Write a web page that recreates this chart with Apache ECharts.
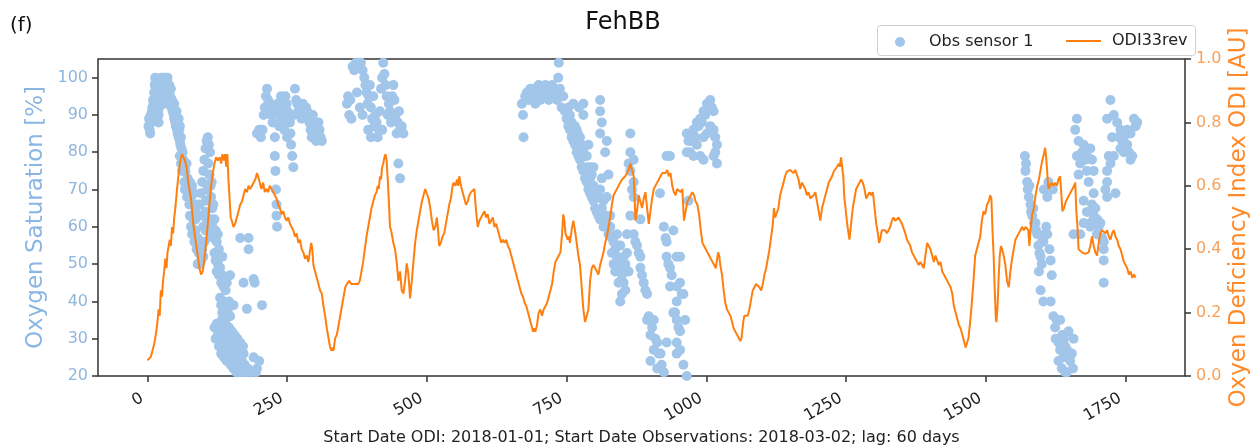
<!DOCTYPE html>
<html><head><meta charset="utf-8">
<script src="https://cdn.jsdelivr.net/npm/echarts@6/dist/echarts.min.js"></script>
<style>html,body{margin:0;padding:0;background:#fff;overflow:hidden}#c{width:1253px;height:447px}</style>
</head><body><div id="c"></div>
<script>
const xTicks=[0,250,500,750,1000,1250,1500,1750];
const yLeftTicks=[20,30,40,50,60,70,80,90,100];
const yRightTicks=[0,0.2,0.4,0.6,0.8,1.0];

// ODI33rev line [day, value]
const odi=[[0,0.05],[3,0.045],[6,0.06],[9,0.08],[12,0.10],[15,0.13],[18,0.17],[20,0.21],[22,0.19],[24,0.27],[26,0.25],[28,0.30],[30,0.33],[32,0.37],[34,0.34],[36,0.39],[38,0.41],[40,0.43],[42,0.41],[44,0.47],[46,0.45],[48,0.50],[50,0.53],[53,0.59],[56,0.64],[59,0.68],[62,0.70],[64,0.70],[67,0.68],[70,0.66],[74,0.60],[78,0.56],[82,0.48],[86,0.43],[90,0.38],[93,0.34],[96,0.32],[99,0.33],[102,0.37],[105,0.42],[108,0.48],[111,0.54],[114,0.60],[117,0.64],[120,0.67],[123,0.69],[126,0.68],[129,0.69],[132,0.67],[134,0.70],[137,0.68],[139,0.70],[141,0.66],[143,0.70],[145,0.62],[147,0.56],[149,0.50],[151,0.49],[154,0.47],[157,0.48],[160,0.50],
[163,0.52],[166,0.54],[169,0.55],[172,0.57],[175,0.59],[178,0.58],[181,0.60],[184,0.59],[187,0.60],[190,0.60],[193,0.62],[196,0.64],[198,0.63],[201,0.61],[204,0.59],[207,0.61],[210,0.58],[213,0.59],[216,0.58],[219,0.60],[222,0.59],[225,0.58],[228,0.58],[231,0.56],[234,0.54],[237,0.53],[240,0.51],[243,0.52],[246,0.50],[249,0.49],[252,0.50],[255,0.48],[258,0.48],[261,0.46],[264,0.44],[267,0.45],[270,0.42],[273,0.43],[276,0.40],[279,0.39],[282,0.37],[285,0.38],[288,0.36],[291,0.36],[293,0.42],[295,0.40],[297,0.35],[300,0.33],[303,0.31],[306,0.29],[309,0.27],[312,0.26],[315,0.22],[318,0.19],[321,0.15],[324,0.12],[327,0.09],[329,0.08],[331,0.09],[333,0.08],
[336,0.12],[339,0.13],[342,0.16],[345,0.19],[348,0.22],[351,0.25],[354,0.28],[357,0.29],[361,0.30],[365,0.29],[369,0.29],[373,0.29],[377,0.29],[380,0.30],[383,0.33],[386,0.36],[389,0.40],[392,0.44],[395,0.47],[398,0.50],[401,0.53],[404,0.55],[407,0.57],[410,0.58],[412,0.60],[414,0.59],[416,0.63],[418,0.62],[420,0.66],[422,0.67],[424,0.69],[426,0.70],[428,0.68],[430,0.62],[432,0.55],[434,0.47],[436,0.46],[438,0.44],[440,0.42],[443,0.40],[446,0.36],[449,0.30],[452,0.33],[455,0.27],[458,0.26],[461,0.30],[464,0.355],[467,0.32],[470,0.245],[473,0.30],[476,0.36],
[479,0.42],[482,0.46],[485,0.49],[488,0.52],[491,0.55],[494,0.57],[497,0.59],[500,0.59],[503,0.56],[506,0.53],[509,0.49],[512,0.46],[515,0.47],[518,0.50],[520,0.46],[522,0.41],[525,0.42],[528,0.44],[531,0.45],[534,0.48],[537,0.51],[540,0.54],[543,0.56],[546,0.60],[548,0.61],[551,0.60],[554,0.62],[556,0.60],[558,0.63],[561,0.60],[564,0.58],[567,0.56],[570,0.54],[573,0.55],[576,0.57],[579,0.58],[582,0.58],[585,0.59],[588,0.52],[591,0.47],[594,0.49],[597,0.50],[600,0.51],[603,0.52],[606,0.50],[609,0.51],[612,0.48],[615,0.49],[618,0.50],[621,0.47],[624,0.48],[627,0.46],[630,0.44],[633,0.42],[636,0.43],[639,0.42],[642,0.43],[645,0.41],[648,0.40],[651,0.38],[654,0.36],[657,0.34],[660,0.32],[663,0.30],[666,0.28],[669,0.26],[672,0.25],[675,0.23],[678,0.22],[681,0.20],[684,0.18],[687,0.16],[690,0.14],[692,0.15],[694,0.14],[697,0.16],[700,0.20],[703,0.21],
[706,0.19],[709,0.21],[712,0.22],[715,0.23],[718,0.25],[721,0.27],[724,0.29],[727,0.33],[730,0.36],[733,0.37],[736,0.38],[739,0.39],[742,0.45],[744,0.51],[746,0.49],[748,0.45],[750,0.45],[752,0.43],[754,0.44],[756,0.42],[759,0.46],[762,0.49],[765,0.46],[768,0.42],[771,0.38],[774,0.35],[777,0.28],[780,0.21],[783,0.17],[786,0.17],[789,0.21],[792,0.30],[795,0.34],[798,0.35],[801,0.34],[804,0.33],[807,0.32],[810,0.35],[813,0.37],[816,0.39],[819,0.42],[822,0.44],[825,0.47],[828,0.50],[831,0.54],[834,0.57],[837,0.58],[840,0.59],[843,0.60],[846,0.61],[849,0.62],[852,0.62],[855,0.63],[858,0.64],[861,0.65],[864,0.67],[867,0.65],[870,0.63],[872,0.55],[873,0.49],[876,0.52],[879,0.57],[882,0.55],[885,0.53],[888,0.56],[891,0.58],[894,0.53],[897,0.48],[900,0.52],[903,0.56],[906,0.59],[909,0.60],[912,0.61],[915,0.62],[918,0.63],[921,0.64],[924,0.645],[927,0.64],[930,0.65],[933,0.63],[936,0.64],[939,0.60],[942,0.58],[945,0.57],[948,0.59],[951,0.59],[954,0.58],[957,0.59],[960,0.49],[963,0.52],[966,0.55],[969,0.56],[972,0.57],[975,0.58],[978,0.57],[981,0.55],[984,0.54],
[987,0.51],[990,0.46],[993,0.42],[996,0.41],[999,0.40],[1002,0.39],[1005,0.38],[1008,0.37],[1011,0.36],[1014,0.35],[1017,0.34],[1019,0.34],[1021,0.39],[1023,0.38],[1025,0.35],[1028,0.32],[1031,0.27],[1034,0.23],[1037,0.21],[1040,0.20],[1043,0.19],[1046,0.17],[1049,0.15],[1052,0.14],[1055,0.13],[1058,0.12],[1061,0.11],[1063,0.12],[1066,0.17],[1068,0.19],[1071,0.19],[1074,0.19],[1077,0.21],[1080,0.24],[1083,0.27],[1086,0.28],[1089,0.29],[1092,0.29],[1095,0.28],[1098,0.27],[1101,0.29],[1104,0.32],[1107,0.34],[1110,0.37],[1113,0.40],[1116,0.44],[1119,0.48],[1121,0.53],[1123,0.50],[1126,0.50],[1129,0.53],[1132,0.57],[1135,0.59],[1138,0.61],[1141,0.63],[1144,0.645],[1147,0.64],[1150,0.65],[1153,0.65],[1156,0.64],[1159,0.65],[1162,0.655],[1165,0.62],[1168,0.59],[1171,0.61],[1174,0.60],[1177,0.59],[1180,0.57],[1183,0.58],[1186,0.56],[1189,0.56],[1192,0.57],[1195,0.58],[1198,0.575],[1201,0.52],[1204,0.49],[1207,0.53],[1210,0.55],[1213,0.57],[1216,0.59],[1219,0.61],[1222,0.62],[1225,0.63],[1228,0.645],[1231,0.65],[1234,0.66],[1237,0.67],[1239,0.66],[1241,0.69],[1243,0.66],[1245,0.63],[1247,0.56],[1249,0.53],[1252,0.48],[1256,0.43],
[1259,0.48],[1262,0.53],[1265,0.56],[1268,0.59],[1271,0.60],[1274,0.61],[1277,0.62],[1280,0.61],[1283,0.59],[1286,0.56],[1289,0.57],[1292,0.58],[1295,0.57],[1298,0.58],[1301,0.53],[1304,0.48],[1307,0.45],[1309,0.42],[1311,0.43],[1314,0.46],[1317,0.455],[1320,0.46],[1323,0.45],[1326,0.46],[1329,0.47],[1332,0.49],[1335,0.50],[1338,0.49],[1341,0.49],[1344,0.50],[1347,0.49],[1350,0.48],[1353,0.465],[1356,0.45],[1359,0.43],[1362,0.42],[1365,0.41],[1368,0.39],[1371,0.38],[1374,0.37],[1377,0.36],[1380,0.35],[1383,0.36],[1386,0.35],[1389,0.34],[1392,0.38],[1395,0.42],[1398,0.41],[1401,0.40],[1404,0.38],[1407,0.36],[1410,0.38],[1413,0.38],[1416,0.35],[1419,0.36],[1422,0.33],[1425,0.33],[1428,0.31],[1431,0.30],[1434,0.29],[1437,0.28],
[1440,0.26],[1443,0.22],[1446,0.20],[1449,0.18],[1452,0.16],[1455,0.15],[1458,0.13],[1461,0.11],[1464,0.09],[1466,0.09],[1469,0.12],[1472,0.17],[1475,0.23],[1478,0.30],[1481,0.38],[1484,0.40],[1487,0.42],[1490,0.44],[1493,0.49],[1496,0.52],[1499,0.51],[1502,0.54],[1505,0.55],[1508,0.57],[1510,0.56],[1512,0.46],[1514,0.38],[1516,0.27],[1518,0.18],[1519,0.17],[1521,0.22],[1523,0.31],[1525,0.38],[1527,0.41],[1529,0.40],[1532,0.38],[1535,0.35],[1538,0.30],[1541,0.28],[1544,0.33],[1547,0.37],[1550,0.40],[1553,0.43],[1556,0.44],[1559,0.45],[1562,0.46],[1565,0.47],[1568,0.46],[1571,0.47],[1574,0.47],[1576,0.46],[1578,0.41],[1580,0.46],[1583,0.51],[1586,0.53],[1589,0.57],[1592,0.60],[1595,0.62],[1598,0.65],[1601,0.68],[1604,0.70],[1606,0.72],[1608,0.69],[1610,0.64],[1612,0.59],[1615,0.60],[1618,0.61],[1621,0.60],[1624,0.61],[1627,0.60],[1630,0.62],[1633,0.63],[1635,0.58],[1637,0.52],[1640,0.53],[1643,0.55],[1646,0.56],[1649,0.57],[1652,0.58],[1655,0.59],[1658,0.60],[1660,0.61],[1662,0.52],[1664,0.47],[1666,0.40],[1669,0.395],[1672,0.39],[1675,0.39],[1678,0.385],[1681,0.38],[1684,0.39],[1687,0.41],[1690,0.44],[1693,0.41],[1696,0.39],[1699,0.38],[1702,0.42],[1705,0.45],[1708,0.46],[1711,0.466],[1714,0.45],[1717,0.46],[1720,0.44],[1723,0.43],[1726,0.45],[1729,0.46],[1732,0.44],[1735,0.43],[1738,0.41],[1741,0.40],[1744,0.38],[1747,0.36],[1750,0.35],[1753,0.34],[1756,0.32],[1759,0.33],[1762,0.31],[1765,0.32],[1768,0.31]];

// Obs sensor 1 clusters [day, saturation %]
const obsA=[[2,87],[3,89],[4,86],[5,88],[5,85],[6,90],[7,88],[8,91],[8,89],[9,92],[10,94],[11,93],[12,96],[12,92],[13,98],[14,100],[15,99],[16,97],[16,94],[17,95],[18,93],[19,91],[20,90],[20,88],[21,92],[22,94],[23,97],[24,99],[24,95],[25,100],[26,98],[27,96],[28,100],[29,99],[30,97],[30,93],[31,95],[32,98],[33,100],[34,99],[35,97],[36,96],[36,100],[37,94],[38,96],[39,98],[40,97],[41,95],[42,93],[42,97],[43,92],[44,94],[45,91],[46,93],[47,90],[48,89],[48,93],[49,91],[50,88],[51,87],[52,89],[52,91],[53,86],[54,85],[55,87],[56,84],[56,89],[57,86],[58,83],[58,87],[59,82],[60,84],[61,81],
[58,79],[60,77],[62,75],[64,78],[66,72],[68,75],[70,77],[72,73],[74,70],[76,72],[78,68],[80,71],[82,66],[84,69],[86,64],[88,66],[86,62],[63,80],[67,70],[71,68],[75,66],
[76,63],[78,60],[80,58],[82,62],[84,56],[86,59],[88,54],[90,57],[92,53],[94,55],[96,51],[98,54],[100,52],[102,56],[104,59],[106,62],[104,64],[100,60],[90,50],[94,50],
[92,63],[94,66],[96,69],[98,72],[100,75],[102,78],[104,81],[106,83],[108,84],[110,82],[112,80],[109,77],[111,74],[113,71],[114,68],[116,65],[118,66],[115,72],[107,70],[105,67],
[110,60],[112,62],[114,58],[116,60],[118,57],[120,62],[122,59],[124,56],[126,58],
[120,53],[122,51],[124,48],[126,50],[128,47],[130,49],[132,45],[134,47],[136,44],[138,46],[140,43],[142,45],[128,54],[134,52],
[130,41],[132,39],[134,37],[136,40],[138,38],[140,36],[142,39],[144,37],[146,40],[148,36],
[120,33],[122,30],[124,34],[126,31],[128,28],[129,33],[131,30],[132,26],[133,35],[135,32],[136,28],[137,25],[138,30],[140,34],[141,27],[142,24],[143,31],[144,29],[146,33],[147,26],[148,30],[149,23],[150,28],[151,32],[152,25],[153,29],[154,22],[155,27],[156,31],[157,24],[158,28],[159,21],[160,26],[161,30],[162,23],[163,27],[164,21],[165,25],[166,29],[167,22],[168,26],[169,24],[170,21],[171,28],[174,23],[176,21],[180,22],[184,21],
[148,47],[154,39],[166,57],[172,45],[172,26],[178,38],[181,57],[181,54],[190,46],[192,45],[190,25],[196,22],[200,24],[205,39],[185,21],[194,21]];
const obsB=[[196,85],[200,86],[203,84],[206,86],[208,90],[210,92],[212,95],[214,97],[216,94],[218,92],[220,93],[222,90],[224,88],[226,91],[228,84],[228,79],[229,75],[230,70],[231,66],[231,63],[232,60],[233,93],[235,90],[236,87],[237,92],[239,95],[240,88],[241,93],[243,92],[245,90],[245,86],[247,95],[249,93],[250,84],[251,91],[253,90],[255,88],[256,85],[257,82],[259,79],[261,76],[262,90],[264,97],[266,94],[268,93],[270,91],[272,90],[274,92],[276,89],[278,93],[280,92],[282,90],[284,92],[286,91],[288,89],[290,88],[292,86],[294,84],[296,90],[298,88],[300,85],[302,83],[304,86],[306,88],[308,86],[310,84],[312,83]];
const obsC=[[357,93],[359,95],[361,90],[363,94],[365,89],[367,103],[370,102],[373,104],[375,96],[376,104],[379,103],[380,92],[382,104],[385,102],[385,90],[388,100],[390,98],[392,96],[394,93],[395,86],[396,95],[398,98],[400,92],[400,84],[402,89],[404,95],[406,87],[408,90],[410,88],[412,84],[414,86],[416,91],[418,97],[420,100],[420,86],[422,104],[424,101],[426,98],[428,95],[430,90],[432,93],[434,91],[436,88],[438,95],[440,98],[442,94],[444,90],[446,85],[448,88],[449,77],[450,91],[452,86],[452,73],[455,87],[458,85]];
const obsD=[[670,93],[672,90],[673,84],[676,95],[679,96],[682,94],[685,97],[688,95],[691,97],[694,93],[697,96],[700,98],[703,94],[706,97],[709,95],[712,98],[715,97],[718,94],[721,96],[724,98],[727,97],[730,95],[733,94],[735,100],[736,104],[738,97],[741,92],[744,95],[747,91],[750,89],[753,92],[756,86],[759,88],[762,93],[762,83],[765,87],[768,80],[770,85],[772,92],[774,78],[774,84],[777,82],[780,93],[780,90],[780,75],[783,79],[786,72],[786,79],[789,82],[792,69],[792,76],[795,74],[798,67],[798,76],[801,70],[804,64],[807,68],[810,94],[810,91],[810,85],[810,62],[810,70],[813,88],[813,73],[816,67],[816,60],[819,80],[822,83],[822,68],[825,74],[828,60],[831,57],[834,56],[837,54],[840,58],[840,52],[843,50],[846,55],[846,49],[849,47],[852,52],[852,45],[855,43],[846,40],[858,58],[861,77],[864,85],[864,80],[864,75],[864,63],[867,70],[870,78],[870,72],[870,68],[870,58],[873,56],[876,55],[879,53],[882,62],[882,52],[882,49],[885,47],[888,45],[891,43],[894,42],[894,35],[897,36],[900,31],[900,24],[903,33],[906,35],[906,27],[909,30],[912,29],[912,22],[915,26],[918,26],[920,23],[924,21],[924,60],[927,57],[929,79],[929,56],[929,52],[929,29],[932,50],[935,49],[935,44],[935,79],[938,47],[941,59],[941,37],[944,37],[947,52],[947,44],[947,40],[947,35],[947,29],[947,26],[950,33],[953,52],[953,45],[953,32],[953,27],[956,42],[959,42],[959,23],[962,35],[965,20],[917,69],[968,67],
[753,87],[756,90],[759,84],[765,82],[768,86],[771,79],[777,76],[780,81],[783,73],[786,76],[789,70],[792,73],[795,68],[798,71],[801,65],[804,69],[807,63],[813,65],[816,63],[819,61],[822,63],[825,58],[828,63],[831,53],[834,50],[837,48],[843,45],[849,42],[855,50],[858,53],[861,48]];
const obsE=[[965,85],[965,80],[968,83],[971,83],[971,80],[974,85],[977,86],[977,79],[980,84],[983,88],[983,82],[986,87],[989,79],[989,89],[992,88],[995,91],[995,84],[995,78],[998,90],[1001,93],[1001,85],[1004,92],[1007,94],[1007,87],[1010,92],[1013,91],[1013,86],[1013,79],[1016,80],[1016,84],[1019,77],[1019,82]];
const obsF=[[1570,79],[1571,75],[1572,77],[1574,72],[1575,70],[1577,68],[1578,71],[1580,66],[1581,64],[1583,63],[1585,65],[1586,61],[1589,61],[1590,59],[1592,58],[1594,55],[1595,48],[1596,53],[1598,52],[1598,43],[1600,50],[1601,56],[1603,56],[1603,40],[1604,70],[1606,58],[1608,60],[1610,58],[1610,68],[1612,72],[1614,54],[1616,51],[1616,40],[1618,47],[1620,70],[1621,36],[1624,33],[1625,30],[1627,35],[1630,29],[1630,24],[1633,35],[1633,27],[1636,22],[1637,31],[1639,25],[1640,30],[1642,28],[1642,21],[1645,27],[1645,21],[1648,32],[1649,26],[1651,24],[1654,26],[1656,22],[1657,30]];
const obsG=[[1657,58],[1660,86],[1663,89],[1663,79],[1666,83],[1666,74],[1669,77],[1669,58],[1672,80],[1675,82],[1675,67],[1675,61],[1678,78],[1681,79],[1681,75],[1681,64],[1684,72],[1687,81],[1687,61],[1687,60],[1690,78],[1690,66],[1693,75],[1693,69],[1693,63],[1696,65],[1699,62],[1699,58],[1702,60],[1705,61],[1708,57],[1711,56],[1711,54],[1711,51],[1711,45],[1714,70],[1717,89],[1717,75],[1717,72],[1717,68],[1720,79],[1723,94],[1723,77],[1726,84],[1729,90],[1729,79],[1732,69],[1735,88],[1738,84],[1741,86],[1741,81],[1744,83],[1747,84],[1747,80],[1750,82],[1753,86],[1753,82],[1756,80],[1759,85],[1759,78],[1762,79],[1765,89],[1768,87],[1771,88]];

const obs=[].concat(obsA,obsB,obsC,obsD,obsE,obsF,obsG);
const FONT='DejaVu Sans';
const BLUE_PT='#a2c6ea', BLUE_TXT='#8fb6df', BLUE_NAME='#8ab6e4';
const ORANGE='#ff7f0e', ORANGE_TXT='#f7a15a', ORANGE_NAME='#ff8a2a';

const chart=echarts.init(document.getElementById('c'),null,{renderer:'canvas'});
chart.setOption({
  animation:false,
  backgroundColor:'#ffffff',
  grid:{left:98,right:68,top:59,bottom:71,containLabel:false,outerBoundsMode:'none',show:true,borderColor:'#333',borderWidth:1.5,backgroundColor:'transparent'},
  xAxis:{type:'value',min:-88.4,max:1856.4,
    axisLine:{show:false,onZero:false},
    axisTick:{show:true,length:6,customValues:xTicks,lineStyle:{color:'#333',width:1.5}},
    axisLabel:{customValues:xTicks,rotate:30,margin:18,padding:[0,6,0,0],fontSize:16,color:'#222',fontFamily:FONT,formatter:v=>String(v)},
    splitLine:{show:false},
    name:'Start Date ODI: 2018-01-01; Start Date Observations: 2018-03-02; lag: 60 days',
    nameLocation:'middle',nameGap:54,nameMoveOverlap:false,nameTextStyle:{fontSize:16,color:'#222',fontFamily:FONT}},
  yAxis:[
    {type:'value',min:20,max:105,position:'left',
     axisLine:{show:false,onZero:false},
     axisTick:{show:true,length:6,customValues:yLeftTicks,lineStyle:{color:'#333',width:1.5}},
     axisLabel:{customValues:yLeftTicks,margin:10,fontSize:16,color:BLUE_TXT,fontFamily:FONT,formatter:v=>String(v)},
     splitLine:{show:false},
     name:'Oxygen Saturation [%]',nameLocation:'middle',nameRotate:90,nameGap:50,nameMoveOverlap:false,
     nameTextStyle:{fontSize:23,color:BLUE_NAME,fontFamily:FONT}},
    {type:'value',min:0,max:1,interval:0.2,position:'right',
     axisLine:{show:false,onZero:false},
     axisTick:{show:true,length:6,lineStyle:{color:'#333',width:1.5}},
     axisLabel:{margin:11,fontSize:16,color:ORANGE_TXT,fontFamily:FONT,formatter:v=>v.toFixed(1)},
     splitLine:{show:false},
     name:'Oxyen Deficiency Index ODI [AU]',nameLocation:'middle',nameRotate:90,nameGap:43,nameMoveOverlap:false,
     nameTextStyle:{fontSize:23,color:ORANGE_NAME,fontFamily:FONT}}
  ],
  legend:[
    {data:[{name:'Obs sensor 1',icon:'circle'}],left:895,top:34,padding:0,itemWidth:10,itemHeight:10,
     textStyle:{fontSize:16,color:'#222',fontFamily:FONT,padding:[0,0,0,19]}},
    {data:[{name:'ODI33rev',icon:'rect'}],left:1066,top:33,padding:0,itemWidth:35,itemHeight:2,
     textStyle:{fontSize:16,color:'#222',fontFamily:FONT,padding:[0,0,0,6]}}
  ],
  graphic:[
    {type:'rect',left:877,top:25,z:1,shape:{width:318,height:30,r:3},style:{fill:'rgba(255,255,255,0.85)',stroke:'#d0d0d0',lineWidth:1}},
    {type:'text',left:10,top:16,style:{text:'(f)',font:'20px "DejaVu Sans"',fill:'#111'}},
    {type:'text',x:623,y:23,style:{text:'FehBB',font:'24px "DejaVu Sans"',fill:'#111',textAlign:'center',textVerticalAlign:'middle'}}
  ],
  series:[
    {name:'Obs sensor 1',type:'scatter',yAxisIndex:0,data:obs,symbol:'circle',symbolSize:10,
     itemStyle:{color:BLUE_PT,opacity:1},z:2},
    {name:'ODI33rev',type:'line',yAxisIndex:1,data:odi,symbol:'none',showSymbol:false,
     lineStyle:{color:ORANGE,width:2},itemStyle:{color:ORANGE},z:3}
  ]
});
</script></body></html>
